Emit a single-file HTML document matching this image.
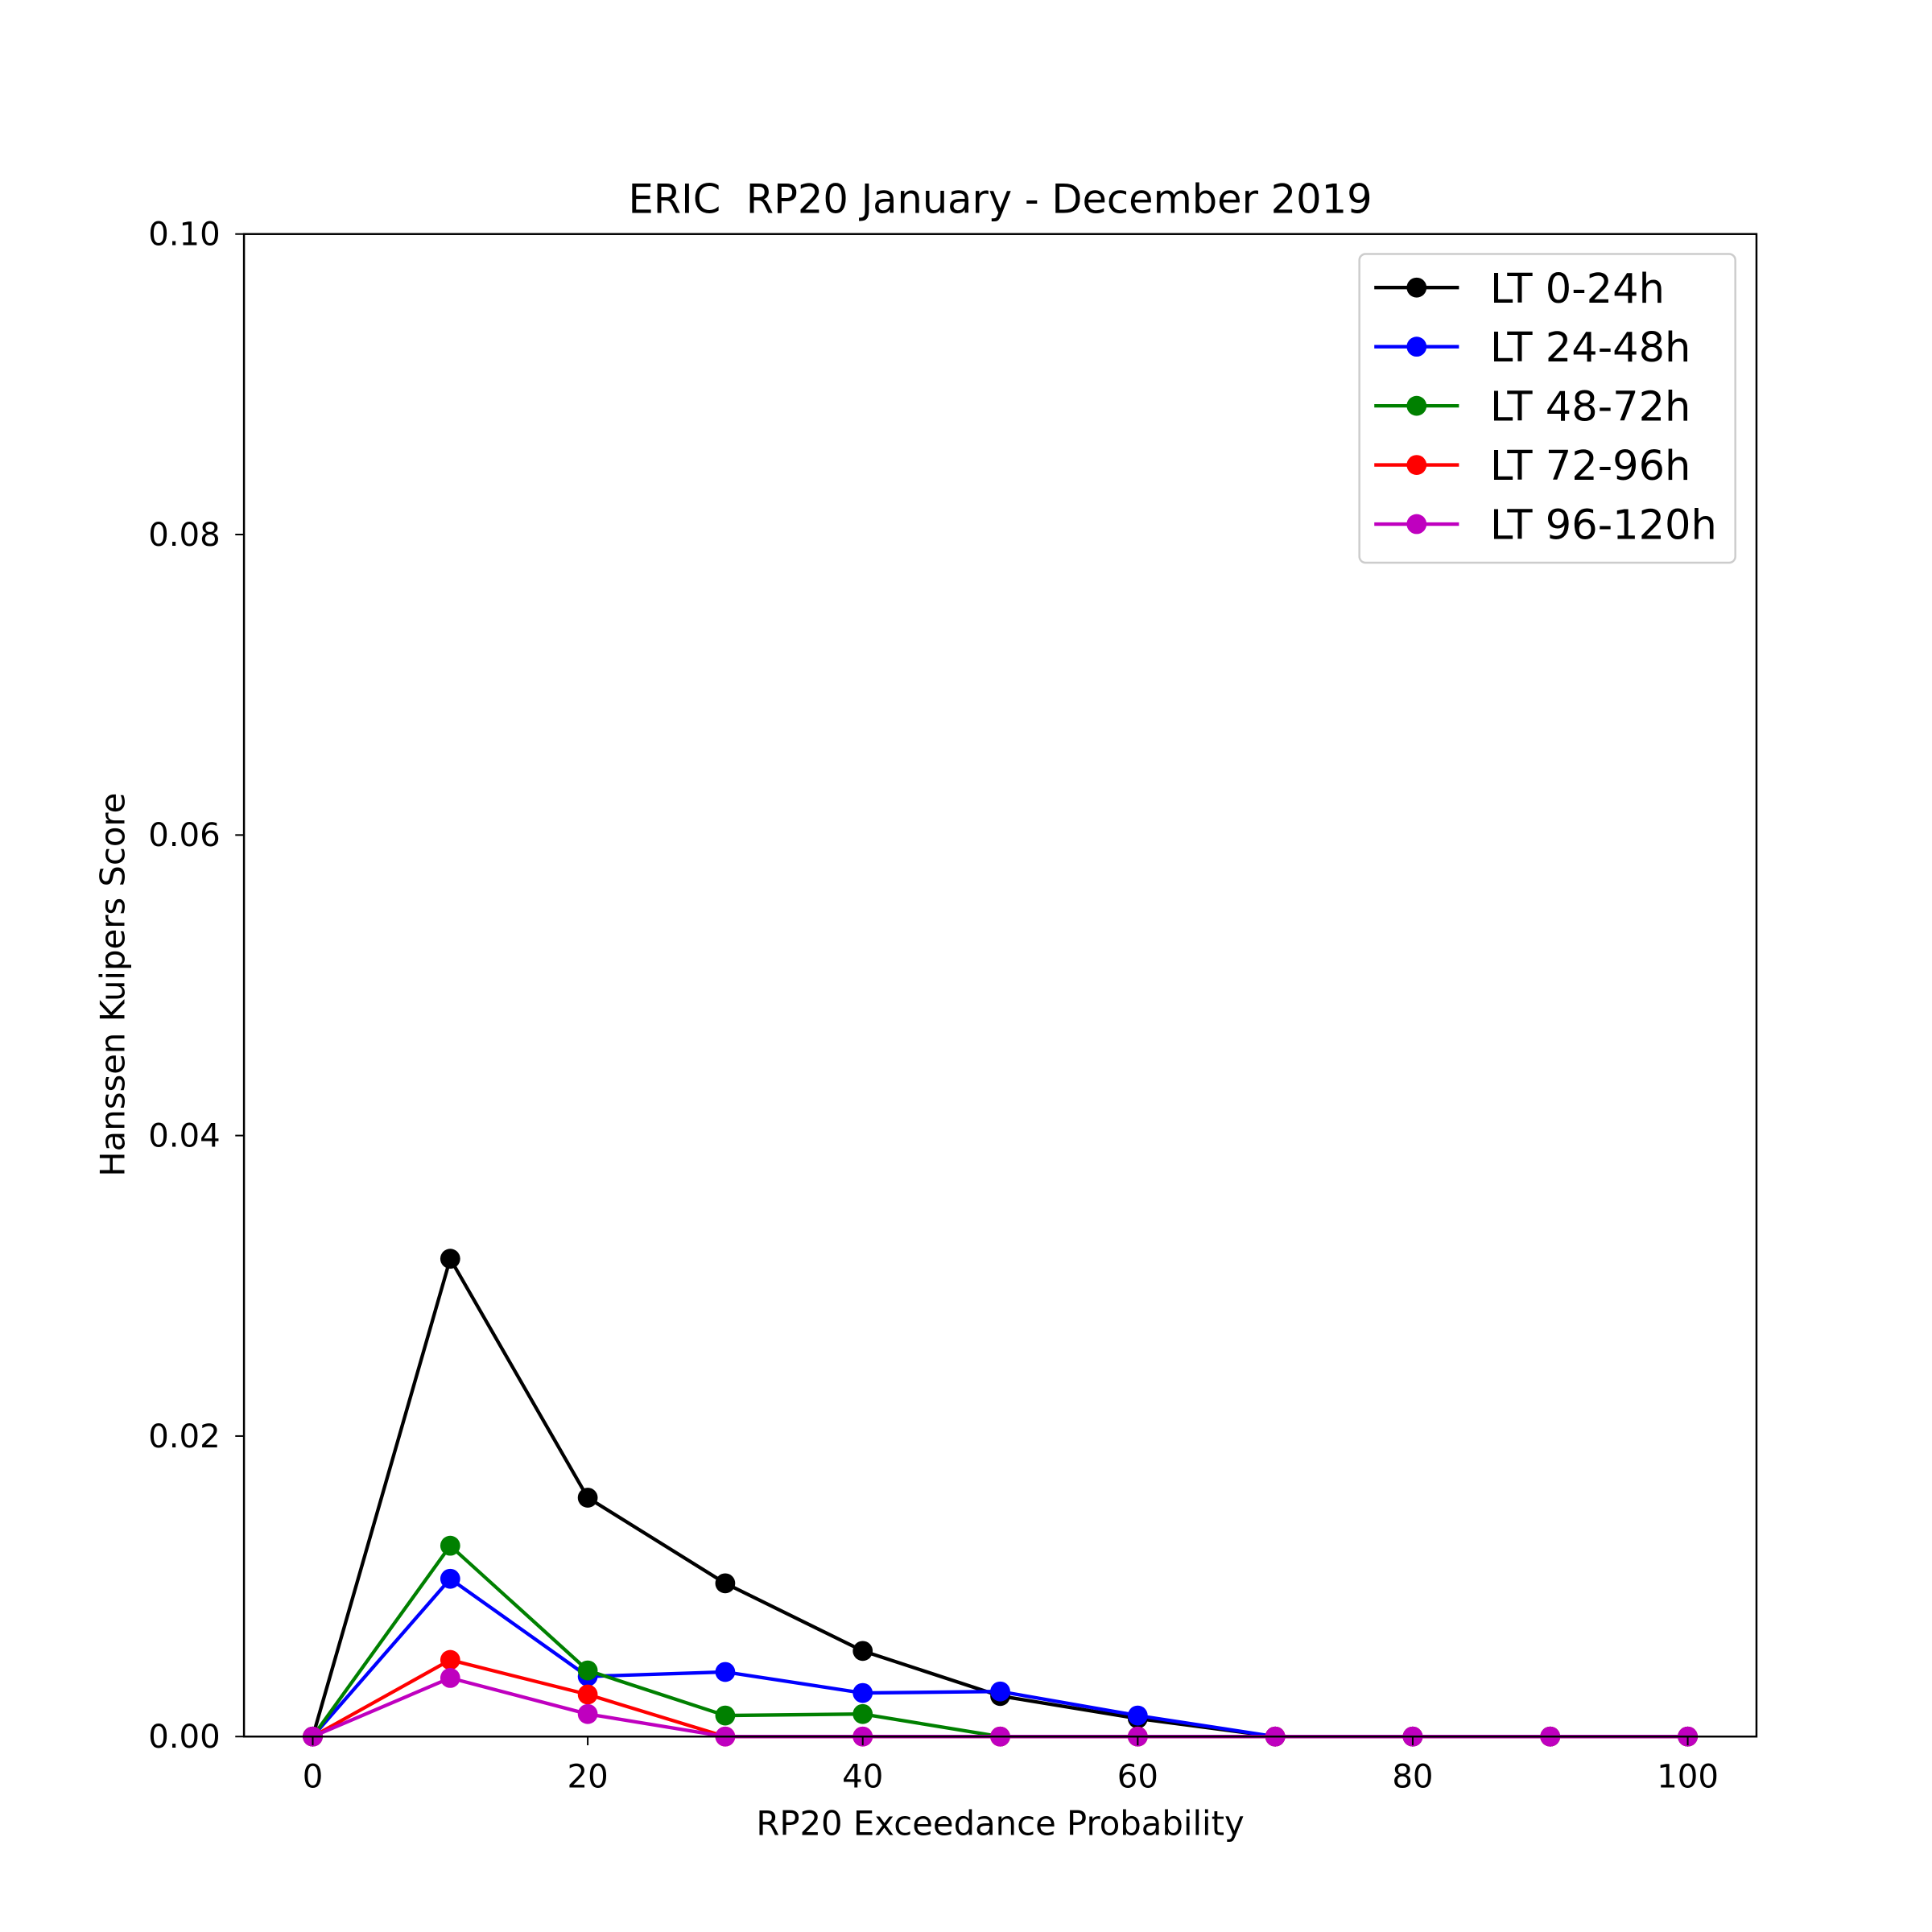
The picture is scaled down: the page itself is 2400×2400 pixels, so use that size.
<!DOCTYPE html>
<html><head><meta charset="utf-8"><style>
html,body{margin:0;padding:0;background:#fff;}
svg{display:block;}
text{font-family:"DejaVu Sans","Liberation Sans",sans-serif;fill:#000;white-space:pre;}
</style></head><body>
<svg id="chart" width="2400" height="2400" viewBox="0 0 1552 1552" xmlns="http://www.w3.org/2000/svg" xml:space="preserve">
<rect x="0" y="0" width="1552" height="1552" fill="#fff"/>
<text x="803.5" y="171" font-size="32" text-anchor="middle" xml:space="preserve">ERIC  RP20 January - December 2019</text>
<g id="plot"></g>
<rect x="196" y="188" width="1215" height="1207" fill="none" stroke="#000" stroke-width="1.6"/>
<text x="803.5" y="1474" font-size="27" text-anchor="middle">RP20 Exceedance Probability</text>
<text transform="translate(100,791) rotate(-90)" font-size="27" text-anchor="middle">Hanssen Kuipers Score</text>
<g>
<rect x="1092" y="204" width="302" height="248" rx="5" fill="#fff" fill-opacity="0.8" stroke="#ccc" stroke-width="1.6"/>
<g id="legend-entries"></g>
</g>
</svg>
<script>
const categories = [0,10,20,30,40,50,60,70,80,90,100];
const seriesNames = ["LT 0-24h","LT 24-48h","LT 48-72h","LT 72-96h","LT 96-120h"];
const seriesColors = ["#000000","#0000ff","#008000","#ff0000","#bf00bf"];
const lt0_24 = [0,0.0318,0.0159,0.0102,0.0057,0.0027,0.0012,0,0,0,0];
const lt24_48 = [0,0.0105,0.0040,0.0043,0.0029,0.0030,0.0014,0,0,0,0];
const lt48_72 = [0,0.0127,0.0044,0.0014,0.0015,0,0,0,0,0,0];
const lt72_96 = [0,0.0051,0.0028,0,0,0,0,0,0,0,0];
const lt96_120 = [0,0.0039,0.0015,0,0,0,0,0,0,0,0];
const xTicks = [0,20,40,60,80,100];
const yTicks = [0,0.02,0.04,0.06,0.08,0.10];
const yTickLabels = ["0.00","0.02","0.04","0.06","0.08","0.10"];

const NS="http://www.w3.org/2000/svg";
const L=196,R=1411,T=188,B=1395;
const xMin=-5,xMax=105,yMin=0,yMax=0.1;
function xs(v){return L+(v-xMin)/(xMax-xMin)*(R-L);}
function ys(v){return B-(v-yMin)/(yMax-yMin)*(B-T);}
const svg=document.getElementById('chart');
const plot=document.getElementById('plot');
function mk(tag,attrs,parent){const e=document.createElementNS(NS,tag);for(const k in attrs)e.setAttribute(k,attrs[k]);parent.appendChild(e);return e;}

xTicks.forEach(function(t){
  const g=mk('g',{},svg);
  
  
  mk('line',{x1:xs(t),x2:xs(t),y1:B,y2:B+7,stroke:'#000','stroke-width':1.3},g);
  const tx=mk('text',{x:xs(t),y:B+41,'font-size':26,'text-anchor':'middle'},g);
  tx.textContent=String(t);
});
yTicks.forEach(function(t,i){
  const g=mk('g',{},svg);
  
  
  mk('line',{x1:L-7,x2:L,y1:ys(t),y2:ys(t),stroke:'#000','stroke-width':1.3},g);
  const tx=mk('text',{x:L-19,y:ys(t)+9,'font-size':26,'text-anchor':'end'},g);
  tx.textContent=yTickLabels[i];
});

const allSeries=[lt0_24,lt24_48,lt48_72,lt72_96,lt96_120];
allSeries.forEach(function(vals,si){
  const g=mk('g',{},plot);
  
  
  const pts=categories.map(function(c,i){return xs(c)+','+ys(vals[i]);}).join(' ');
  const pl=mk('polyline',{points:pts,fill:'none',stroke:seriesColors[si],'stroke-width':2.8,'stroke-linejoin':'round'},g);
  
  
  categories.forEach(function(c,i){
    const p=mk('circle',{cx:xs(c),cy:ys(vals[i]),r:8,fill:seriesColors[si]},g);
    
    
  });
});

const lg=document.getElementById('legend-entries');
seriesNames.forEach(function(n,i){
  const y=231+i*47.5;
  const g=mk('g',{},lg);
  
  
  mk('line',{x1:1104,x2:1172,y1:y,y2:y,stroke:seriesColors[i],'stroke-width':2.8},g);
  mk('circle',{cx:1138,cy:y,r:8,fill:seriesColors[i]},g);
  const t=mk('text',{x:1197,y:y+12,'font-size':33},g);
  t.textContent=n;
});
</script>
</body></html>
